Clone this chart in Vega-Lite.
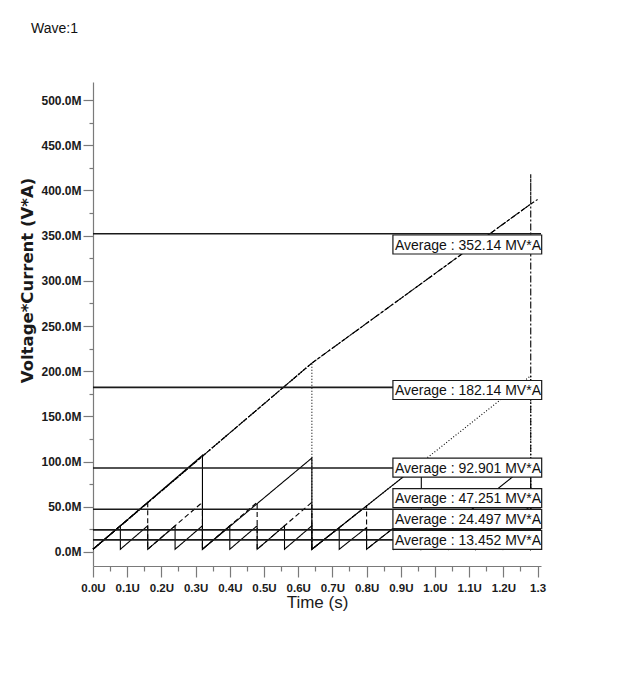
{
  "$schema": "https://vega.github.io/schema/vega-lite/v6.json",
  "width": 448,
  "height": 484,
  "autosize": {"type": "none"},
  "padding": {"left": 93, "top": 82, "right": 103, "bottom": 116},
  "background": "white",
  "title": {"text": "Wave:1", "anchor": "start", "frame": "group", "offset": 46, "dx": -62, "fontSize": 14, "font": "Liberation Sans", "fontWeight": "normal", "color": "#111"},
  "datasets": {
    "waves": [
      {"s":"w1","i":0,"t":0,"v":3},
      {"s":"w1","i":1,"t":0.08,"v":29},{"s":"w1","i":2,"t":0.08,"v":3},
      {"s":"w1","i":3,"t":0.16,"v":29},{"s":"w1","i":4,"t":0.16,"v":3},
      {"s":"w1","i":5,"t":0.24,"v":29},{"s":"w1","i":6,"t":0.24,"v":3},
      {"s":"w1","i":7,"t":0.32,"v":29},{"s":"w1","i":8,"t":0.32,"v":3},
      {"s":"w1","i":9,"t":0.40,"v":29},{"s":"w1","i":10,"t":0.40,"v":3},
      {"s":"w1","i":11,"t":0.48,"v":29},{"s":"w1","i":12,"t":0.48,"v":3},
      {"s":"w1","i":13,"t":0.56,"v":29},{"s":"w1","i":14,"t":0.56,"v":3},
      {"s":"w1","i":15,"t":0.64,"v":29},{"s":"w1","i":16,"t":0.64,"v":3},
      {"s":"w1","i":17,"t":0.72,"v":27},{"s":"w1","i":18,"t":0.72,"v":3},
      {"s":"w1","i":19,"t":0.80,"v":27},{"s":"w1","i":20,"t":0.80,"v":3},
      {"s":"w1","i":21,"t":0.88,"v":27},{"s":"w1","i":22,"t":0.88,"v":3},
      {"s":"w1","i":23,"t":0.96,"v":27},{"s":"w1","i":24,"t":0.96,"v":3},
      {"s":"w1","i":25,"t":1.04,"v":27},{"s":"w1","i":26,"t":1.04,"v":3},
      {"s":"w1","i":27,"t":1.12,"v":27},{"s":"w1","i":28,"t":1.12,"v":3},
      {"s":"w1","i":29,"t":1.20,"v":27},{"s":"w1","i":30,"t":1.20,"v":3},
      {"s":"w1","i":31,"t":1.28,"v":27},{"s":"w1","i":32,"t":1.28,"v":3},
      {"s":"w1","i":33,"t":1.30,"v":9},
      {"s":"w2","i":0,"t":0,"v":3},
      {"s":"w2","i":1,"t":0.16,"v":55},{"s":"w2","i":2,"t":0.16,"v":3},
      {"s":"w2","i":3,"t":0.32,"v":55},{"s":"w2","i":4,"t":0.32,"v":3},
      {"s":"w2","i":5,"t":0.48,"v":55},{"s":"w2","i":6,"t":0.48,"v":3},
      {"s":"w2","i":7,"t":0.64,"v":55},{"s":"w2","i":8,"t":0.64,"v":3},
      {"s":"w2","i":9,"t":0.80,"v":51},{"s":"w2","i":10,"t":0.80,"v":3},
      {"s":"w2","i":11,"t":0.96,"v":51},{"s":"w2","i":12,"t":0.96,"v":3},
      {"s":"w2","i":13,"t":1.12,"v":51},{"s":"w2","i":14,"t":1.12,"v":3},
      {"s":"w2","i":15,"t":1.28,"v":51},{"s":"w2","i":16,"t":1.28,"v":3},
      {"s":"w2","i":17,"t":1.30,"v":9},
      {"s":"w3","i":0,"t":0,"v":3},
      {"s":"w3","i":1,"t":0.32,"v":107},{"s":"w3","i":2,"t":0.32,"v":3},
      {"s":"w3","i":3,"t":0.64,"v":104},{"s":"w3","i":4,"t":0.64,"v":3},
      {"s":"w3","i":5,"t":0.96,"v":99},{"s":"w3","i":6,"t":0.96,"v":3},
      {"s":"w3","i":7,"t":1.28,"v":99},{"s":"w3","i":8,"t":1.28,"v":3},
      {"s":"w3","i":9,"t":1.30,"v":9},
      {"s":"w4","i":0,"t":0,"v":3},
      {"s":"w4","i":1,"t":0.64,"v":209},{"s":"w4","i":2,"t":0.64,"v":3},
      {"s":"w4","i":3,"t":1.28,"v":195},{"s":"w4","i":4,"t":1.28,"v":3},
      {"s":"w4","i":5,"t":1.30,"v":9},
      {"s":"w5","i":0,"t":0,"v":3},
      {"s":"w5","i":1,"t":0.64,"v":209},
      {"s":"w5","i":2,"t":1.28,"v":385},{"s":"w5","i":3,"t":1.28,"v":418},{"s":"w5","i":4,"t":1.28,"v":3},
      {"s":"w5","i":5,"t":1.30,"v":9},
      {"s":"w6","i":0,"t":0,"v":3},
      {"s":"w6","i":1,"t":0.64,"v":209},
      {"s":"w6","i":2,"t":1.28,"v":385},
      {"s":"w6","i":3,"t":1.30,"v":390}
    ],
    "avgs": [
      {"s":"w1","avg":13.452,"label_y":13.3,"label":"Average : 13.452 MV*A"},
      {"s":"w2","avg":24.497,"label_y":36.5,"label":"Average : 24.497 MV*A"},
      {"s":"w3","avg":47.251,"label_y":59.7,"label":"Average : 47.251 MV*A"},
      {"s":"w4","avg":92.901,"label_y":93.4,"label":"Average : 92.901 MV*A"},
      {"s":"w5","avg":182.14,"label_y":179.2,"label":"Average : 182.14 MV*A"},
      {"s":"w6","avg":352.14,"label_y":340.2,"label":"Average : 352.14 MV*A"}
    ]
  },
  "resolve": {"axis": {"x": "independent", "y": "independent"}},
  "layer": [
    {
      "data": {"name": "waves"},
      "mark": {"type": "line", "color": "black", "strokeWidth": 1.1, "interpolate": "linear"},
      "encoding": {
        "x": {
          "field": "t", "type": "quantitative",
          "scale": {"domain": [0, 1.31], "nice": false, "zero": false},
          "axis": {
            "orient": "bottom",
            "title": "Time (s)",
            "values": [0,0.1,0.2,0.3,0.4,0.5,0.6,0.7,0.8,0.9,1.0,1.1,1.2,1.3],
            "labelExpr": "datum.value > 1.29 ? '1.3' : format(datum.value, '.1f') + 'U'",
            "tickSize": 11,
            "labelPadding": 5,
            "labelFont": "Liberation Sans",
            "labelFontSize": 11.5,
            "labelFontWeight": "bold",
            "labelColor": "#1a1a1a",
            "labelOverlap": false,
            "labelFlush": false,
            "labelBound": false,
            "titleFont": "Liberation Sans",
            "titleFontSize": 17,
            "titleFontWeight": "normal",
            "titleColor": "#1a1a1a",
            "titleBaseline": "top",
            "titleY": 28
          }
        },
        "y": {
          "field": "v", "type": "quantitative",
          "scale": {"domain": [-15.5, 520], "nice": false, "zero": false},
          "axis": {
            "orient": "left",
            "title": "Voltage*Current (V*A)",
            "values": [0,50,100,150,200,250,300,350,400,450,500],
            "labelExpr": "format(datum.value, '.1f') + 'M'",
            "tickSize": 10,
            "labelPadding": 2,
            "labelFont": "Liberation Sans",
            "labelFontSize": 12,
            "labelFontWeight": "bold",
            "labelColor": "#1a1a1a",
            "labelOverlap": false,
            "labelFlush": false,
            "labelBound": false,
            "titleFont": "DejaVu Sans",
            "titleFontSize": 16.5,
            "titleFontWeight": "bold",
            "titleColor": "#1a1a1a",
            "titleAlign": "center",
            "titleBaseline": "bottom",
            "titleX": -58,
            "titleY": 198
          }
        },
        "detail": {"field": "s"},
        "strokeDash": {
          "field": "s", "type": "nominal",
          "scale": {"domain": ["w1","w2","w3","w4","w5","w6"], "range": [[1,0],[5,3],[1,0],[1,2],[7,2,2,2],[4,2]]},
          "legend": null
        },
        "order": {"field": "i", "type": "quantitative"}
      }
    },
    {
      "data": {"name": "avgs"},
      "mark": {"type": "rule", "color": "#1a1a1a", "strokeWidth": 1.6},
      "encoding": {
        "x": {"datum": 0, "type": "quantitative",
          "axis": {"orient": "bottom", "title": null, "values": [0.05,0.15,0.25,0.35,0.45,0.55,0.65,0.75,0.85,0.95,1.05,1.15,1.25], "labels": false, "domain": false, "tickSize": 5}},
        "x2": {"datum": 1.31},
        "y": {"field": "avg", "type": "quantitative",
          "axis": {"orient": "left", "title": null, "values": [25,75,125,175,225,275,325,375,425,475], "labels": false, "domain": false, "tickSize": 4}}
      }
    },
    {
      "data": {"name": "avgs"},
      "mark": {"type": "rect", "fill": "white", "stroke": "#1a1a1a", "strokeWidth": 1.2, "yOffset": -9.5, "y2Offset": 9.5},
      "encoding": {
        "x": {"datum": 0.877, "type": "quantitative", "axis": null},
        "x2": {"datum": 1.312},
        "y": {"field": "label_y", "type": "quantitative", "axis": null},
        "y2": {"field": "label_y"}
      }
    },
    {
      "data": {"name": "avgs"},
      "mark": {"type": "text", "align": "left", "baseline": "middle", "dx": 2, "dy": 1, "fontSize": 14, "font": "Liberation Sans", "color": "#111"},
      "encoding": {
        "x": {"datum": 0.877, "type": "quantitative", "axis": null},
        "y": {"field": "label_y", "type": "quantitative", "axis": null},
        "text": {"field": "label"}
      }
    }
  ],
  "config": {
    "view": {"stroke": null},
    "axis": {"grid": false, "domainColor": "#7a7a7a", "tickColor": "#7a7a7a", "domainWidth": 1.2, "tickWidth": 1.2}
  }
}
